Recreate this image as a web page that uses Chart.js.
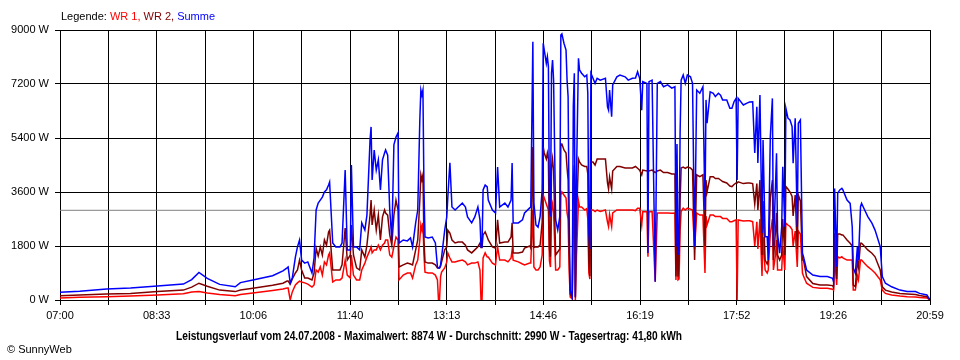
<!DOCTYPE html>
<html>
<head>
<meta charset="utf-8">
<title>Leistungsverlauf 24.07.2008</title>
<script src="https://cdn.jsdelivr.net/npm/chart.js@4.4.1/dist/chart.umd.min.js"></script>
<style>
  html, body { margin: 0; padding: 0; background: #fff; }
  canvas { display: block; }
</style>
</head>
<body>
<canvas id="leistung" width="960" height="360"></canvas>
<script>
// Zeitpunkte in Minuten ab 07:00
const zeit = [
  0,19,45,68,94,119,127,134,142,154,169,174,186,205,215,219,
  220,222,224,227,229,231,233,236,239,243,245,247,249,251,253,255,257,259,260,263,266,270,272,275,277,280,281,283,286,289,291,294,296,299,300,301,303,305,307,309,311,313,314,316,318,320,322,324,326,327,331,335,338,
  340,343,345,347,348,349,350,351,352,355,359,362,364,365,366,367,368,371,373,374,376,378,381,384,388,391,393,397,400,403,405,406,407,408,410,412,413,417,420,421,422,424,429,432,435,436,437,442,446,448,453,
  454,456,457,459,461,463,465,466,467,469,470,471,472,473,474,475,476,478,480,482,483,484,486,488,489,490,491,492,494,495,496,497,498,500,501,503,506,508,509,510,511,512,514,516,518,521,526,528,529,530,532,533,537,540,545,548,552,555,
  557,559,561,562,566,567,568,571,574,576,579,582,586,590,593,594,595,596,597,598,599,601,603,605,608,610,612,614,617,620,622,623,624,627,630,632,635,637,639,643,646,648,650,652,653,654,659,663,665,668,670,672,673,675,677,678,680,682,683,685,687,688,690,691,692,694,696,697,699,700,702,704,706,707,709,711,712,714,716,717,720,726,733,740,745,746,747,749,750,752,754,755,759,762,764,765,767,769,770,772,773,776,779,783,786,791,793,796,802,810,817,825,829,836,839
];

// Summe (W)
const summe = [
  260,290,370,400,470,530,680,920,720,520,440,580,670,810,970,1070,
  1100,570,730,1430,1770,2000,1330,1230,1270,900,1400,3000,3230,3330,3430,3600,3670,3830,3930,1900,1770,1770,1900,4330,1670,1670,4500,1770,1770,1670,2570,2330,2830,5330,5770,4000,5000,4330,4670,3670,4670,4900,5000,4830,3000,2000,5170,5430,5570,1900,2000,1970,2070,
  1770,2570,3000,6000,7000,6830,7000,3670,2100,2070,2100,1900,1100,1070,1070,1170,1430,2330,2770,3430,4570,3100,3000,3100,3230,3100,2770,2570,2770,3100,2670,1770,1770,3670,3830,3770,3330,3000,2900,3670,4430,3100,3230,3100,3330,4570,2570,2570,2670,2900,3070,
  3100,8610,3230,2500,2430,2780,3670,8560,8330,7890,8110,7780,3000,2780,7560,8000,7330,2670,2330,2780,8830,8870,8560,8330,7330,6780,2780,330,110,6440,7560,110,4000,8060,7670,7560,7440,7500,6890,2230,1700,7560,7390,7220,7390,7330,7390,6440,6330,7000,6110,7170,7440,7500,7440,7330,7390,7400,
  7610,7390,6330,7280,7220,1570,7280,7330,610,7220,7280,7110,7170,7060,7110,1780,5200,1500,1780,5560,7330,7500,7220,7500,7440,7220,1780,7000,6890,7110,3000,6670,5890,6940,6890,6780,6890,6830,6670,6670,6390,6390,6610,6720,4000,6720,6500,6570,6600,6610,4900,6440,4570,6830,2230,5330,2110,2110,1330,5440,6720,1780,3780,4890,2220,1560,2440,4440,2440,6390,6060,6000,5780,4560,6060,2440,5890,6000,1560,1440,1000,830,780,780,720,610,3720,1110,3560,3670,3720,3670,3330,3220,2440,1060,890,1780,1330,3110,3220,3000,2780,2560,2330,1780,780,560,440,330,280,280,220,170,0
];

// WR 2 (W)
const wr2 = [
  140,170,200,220,280,330,430,560,460,330,280,330,390,490,560,630,
  630,530,700,900,1000,1330,1000,730,730,670,900,1730,1470,1770,1500,2000,1830,2270,2330,1000,1000,1000,1170,2400,1330,1500,2500,1500,1070,1000,1670,1430,1830,2830,3330,2500,3000,2330,2830,2000,2770,3000,2900,2830,2170,1830,2830,3330,3000,1100,1170,1230,1200,
  1170,1670,2000,3330,4170,4000,4170,2000,1270,1230,1230,1170,1070,1070,1070,1130,1270,1670,1770,2330,2230,2000,1900,1930,1930,1830,1670,1570,1670,1770,1900,1750,1750,2170,2270,2100,2000,1770,1730,2170,2670,1900,1930,1930,2100,2570,1570,1570,1600,1730,1800,
  1730,5100,1750,1770,1770,1830,2600,5100,4900,4700,4900,4700,1700,1440,4400,4700,4300,1500,1600,1700,5200,5200,5000,4900,4400,4000,1700,200,80,3900,4500,80,2600,4700,4600,4500,4450,4450,4200,1300,800,4600,4600,4500,4700,4700,4700,3900,3700,4100,3700,4300,4450,4450,4400,4400,4400,4450,
  4390,4330,4170,4330,4300,4330,4300,4330,4250,4300,4330,4250,4250,4200,4200,780,3000,780,1300,3300,4400,4430,4390,4430,4400,4330,1330,4170,4110,4170,1800,4000,3600,4110,4110,4050,4050,4000,3950,3900,3800,3780,3850,3900,3900,3940,3880,3900,3900,3880,3200,3880,3000,4000,1500,3300,1330,1200,1330,3400,4000,1330,2300,2900,1500,1330,1500,2700,1500,3780,3700,3600,3450,2800,3500,1700,3500,3300,1330,1330,780,550,500,500,480,420,2220,700,2200,2200,2170,2170,2000,1890,1800,500,450,1300,1100,1890,1890,1780,1670,1560,1440,1000,440,330,270,220,200,180,150,110,0
];

// WR 1 (W)
const wr1 = [
  70,90,110,130,170,210,270,280,230,180,140,180,230,320,370,400,
  400,0,270,500,570,630,600,570,530,430,500,1000,930,1100,830,1270,1170,1500,1570,600,670,670,730,1330,830,730,1500,830,670,670,1000,1230,1430,1670,1770,1570,1670,1670,1830,1670,1830,1900,2000,2000,1500,1430,1770,2100,2000,670,830,900,900,
  730,1170,1330,2000,2500,2330,2570,1500,930,900,900,830,670,0,0,770,930,1070,1270,1570,1400,1270,1270,1300,1330,1270,1170,1230,1230,1270,1000,0,0,1400,1570,1430,1430,1230,1170,1500,1770,1330,1330,1270,1400,1670,1330,1270,1200,1170,1230,
  1230,3000,1100,1000,1000,1100,1500,3500,3400,3200,3100,3000,1300,1100,3000,3200,2900,1000,1000,1100,3500,3600,3500,3400,2900,2700,1000,100,30,2500,3000,0,1400,3300,3100,3100,3000,3050,2700,900,700,3000,3000,2950,3000,2950,3000,2600,2450,2850,2450,2900,3000,3000,3000,3000,3000,2980,
  3060,3060,2500,2940,2940,1440,2940,2940,610,2900,2900,2900,2900,2890,2900,670,2200,670,700,2300,2950,3060,3000,3060,3030,3000,1700,2900,2830,2830,900,2800,2500,2830,2830,2780,2780,2780,2720,2720,2610,2610,2640,2670,0,2670,2630,2640,2640,2610,1800,2610,1700,2700,800,2100,1000,900,1000,2200,2700,1000,1500,2000,1000,1000,1000,1800,1000,2560,2500,2450,2350,1800,2300,1100,2300,2200,900,800,560,420,390,390,360,330,1440,500,1440,1400,1440,1400,1330,1330,1330,330,330,800,670,1330,1330,1220,1110,1000,900,670,330,220,170,130,110,100,80,70,0
];

const durchschnitt = 2990;
const zeitLabels = ['07:00', '08:33', '10:06', '11:40', '13:13', '14:46', '16:19', '17:52', '19:26', '20:59'];
const legende = [['Legende: ', '#000000'], ['WR 1, ', '#ff0000'], ['WR 2, ', '#800000'], ['Summe', '#0000ff']];
const titel = 'Leistungsverlauf vom 24.07.2008 - Maximalwert: 8874 W - Durchschnitt: 2990 W - Tagesertrag: 41,80 kWh';

const schrift = '"Liberation Sans", Arial, sans-serif';
const xMax = 839;

function punkte(werte) {
  return zeit.map((m, i) => ({ x: m, y: werte[i] }));
}

// Texte oben und unten
const texte = {
  id: 'texte',
  afterDraw(chart) {
    const ctx = chart.ctx;
    ctx.save();
    ctx.font = '11px ' + schrift;
    ctx.textBaseline = 'alphabetic';
    let x = 61;
    legende.forEach(([text, farbe]) => {
      ctx.fillStyle = farbe;
      ctx.fillText(text, x, 20);
      x += ctx.measureText(text).width;
    });
    ctx.fillStyle = '#000';
    ctx.fillText('\u00A9 SunnyWeb', 7, 353);
    ctx.font = 'bold 12px ' + schrift;
    ctx.textAlign = 'center';
    ctx.fillText(titel, 429, 340, 506);
    ctx.restore();
  }
};

new Chart(document.getElementById('leistung'), {
  type: 'line',
  data: {
    datasets: [
      { label: 'Summe', data: punkte(summe), borderColor: '#0000ff', order: 1 },
      { label: 'WR 2', data: punkte(wr2), borderColor: '#800000', order: 2 },
      { label: 'WR 1', data: punkte(wr1), borderColor: '#ff0000', order: 3 },
      { label: 'Durchschnitt', data: [{ x: 0, y: durchschnitt }, { x: xMax, y: durchschnitt }], borderColor: '#808080', borderWidth: 1, order: 4 }
    ]
  },
  options: {
    responsive: false,
    animation: false,
    devicePixelRatio: 1,
    layout: { padding: { top: 30, right: 30, left: 0, bottom: 0 } },
    elements: {
      point: { radius: 0 },
      line: { borderWidth: 1.5, tension: 0, fill: false }
    },
    plugins: {
      legend: { display: false },
      tooltip: { enabled: false },
      title: { display: false }
    },
    scales: {
      x: {
        type: 'linear',
        min: 0,
        max: xMax,
        afterFit(scale) { scale.height = 60; },
        afterBuildTicks(scale) {
          scale.ticks = Array.from({ length: 19 }, (_, i) => ({ value: i * xMax / 18 }));
        },
        ticks: {
          autoSkip: false,
          maxRotation: 0,
          padding: 4,
          color: '#000',
          font: { family: schrift, size: 11 },
          callback: (v, i) => (i % 2 === 0 ? zeitLabels[i / 2] : '')
        },
        grid: { color: '#000', lineWidth: 1, tickLength: 5 },
        border: { color: '#000' }
      },
      y: {
        min: 0,
        max: 9000,
        afterFit(scale) { scale.width = 60; },
        ticks: {
          stepSize: 1800,
          padding: 6,
          color: '#000',
          font: { family: schrift, size: 11 },
          callback: v => v + ' W'
        },
        grid: { color: '#000', lineWidth: 1, tickLength: 5 },
        border: { color: '#000' }
      }
    }
  },
  plugins: [texte]
});
</script>
</body>
</html>
